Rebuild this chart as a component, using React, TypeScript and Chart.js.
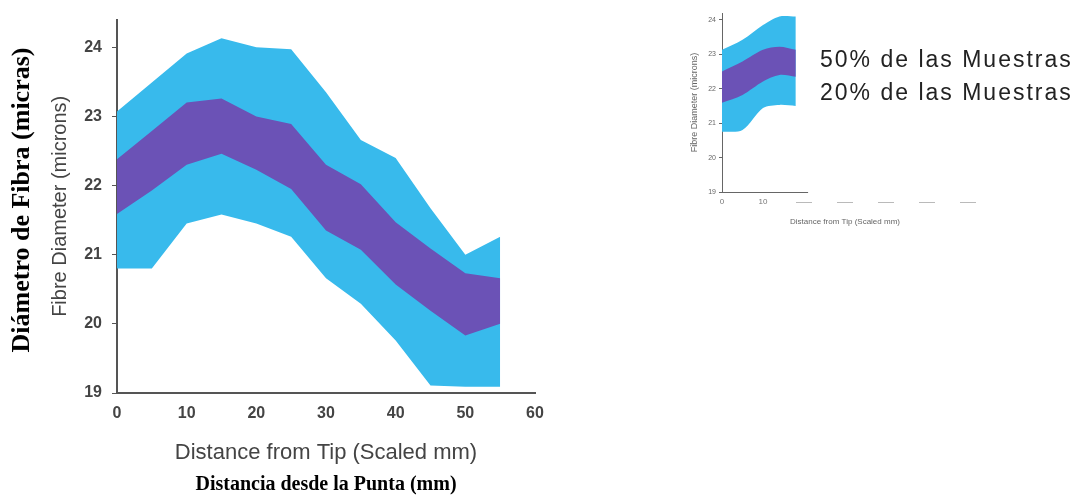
import React, { useEffect, useRef } from "react";
import { Chart, registerables } from "chart.js";

Chart.register(...registerables);

// ---- data (main chart) ----
const distance = [0, 5, 10, 15, 20, 25, 30, 35, 40, 45, 50, 55];
const outerHigh = [23.07, 23.49, 23.91, 24.13, 24.0, 23.97, 23.35, 22.66, 22.4, 21.67, 21.0, 21.26];
const outerLow = [20.8, 20.8, 21.45, 21.58, 21.45, 21.26, 20.66, 20.29, 19.76, 19.11, 19.09, 19.09];
const innerHigh = [22.38, 22.79, 23.2, 23.26, 23.0, 22.89, 22.3, 22.02, 21.47, 21.09, 20.73, 20.66];
const innerLow = [21.59, 21.93, 22.3, 22.46, 22.23, 21.95, 21.35, 21.07, 20.57, 20.19, 19.83, 20.0];

// ---- data (small inset chart) ----
const insetDistance = [0, 5, 10, 14, 18];
const insetOuterHigh = [23.13, 23.42, 23.85, 24.1, 24.1];
const insetOuterLow = [20.75, 20.8, 21.44, 21.53, 21.5];
const insetInnerHigh = [22.5, 22.79, 23.13, 23.22, 23.13];
const insetInnerLow = [21.59, 21.82, 22.21, 22.4, 22.35];
const insetAxisEnd = 21;

// ---- ticks & labels ----
const yTicks = [19, 20, 21, 22, 23, 24];
const xTicks = [0, 10, 20, 30, 40, 50, 60];
const legendLabels = ["50% de las Muestras", "20% de las Muestras"];
const xTitleEn = "Distance from Tip (Scaled mm)";
const yTitleEn = "Fibre Diameter (microns)";
const xTitleEs = "Distancia desde la Punta (mm)";
const yTitleEs = "Diámetro de Fibra (micras)";

const BLUE = "#38baec";
const PURPLE = "#6b52b6";
const SANS = "'Liberation Sans', Arial, sans-serif";
const SERIF = "'Liberation Serif', 'Times New Roman', serif";

function bandDatasets(xs: number[], oh: number[], ol: number[], ih: number[], il: number[], tension: number) {
  const pts = (ys: number[]) => xs.map((x, i) => ({ x, y: ys[i] }));
  const base = { pointRadius: 0, borderWidth: 0, borderColor: "rgba(0,0,0,0)", tension };
  return [
    { ...base, label: legendLabels[0], data: pts(ih), fill: "+1", backgroundColor: PURPLE },
    { ...base, label: "inner low", data: pts(il), fill: false },
    { ...base, label: legendLabels[1], data: pts(oh), fill: "+1", backgroundColor: BLUE },
    { ...base, label: "outer low", data: pts(ol), fill: false },
  ];
}

function MainChart() {
  const ref = useRef<HTMLCanvasElement | null>(null);
  useEffect(() => {
    if (!ref.current) return;
    const chart = new Chart(ref.current, {
      type: "line",
      data: { datasets: bandDatasets(distance, outerHigh, outerLow, innerHigh, innerLow, 0) as any },
      options: {
        animation: false,
        responsive: false,
        devicePixelRatio: 1,
        layout: { padding: { left: 0, top: 15, right: 65, bottom: 0 } },
        plugins: { legend: { display: false }, tooltip: { enabled: false } },
        scales: {
          x: {
            type: "linear",
            min: 0,
            max: 60,
            afterBuildTicks: (s: any) => {
              s.ticks = xTicks.map((v) => ({ value: v }));
            },
            afterFit: (s: any) => {
              s.height = 107;
            },
            grid: { drawOnChartArea: false, drawTicks: false },
            border: { display: true, color: "#555", width: 2 },
            ticks: {
              font: { family: SANS, size: 16, weight: "bold" },
              color: "#444",
              padding: 11,
              maxRotation: 0,
              autoSkip: false,
            },
            title: {
              display: true,
              text: xTitleEn,
              font: { family: SANS, size: 22 },
              color: "#444",
              padding: { top: 0, bottom: 34 },
            },
          },
          y: {
            type: "linear",
            min: 19,
            max: 24.4,
            afterBuildTicks: (s: any) => {
              s.ticks = yTicks.map((v) => ({ value: v }));
            },
            afterFit: (s: any) => {
              s.width = 117;
            },
            grid: { drawOnChartArea: false, drawTicks: true, tickLength: 5, color: "#555" },
            border: { display: true, color: "#555", width: 2 },
            ticks: {
              font: { family: SANS, size: 16, weight: "bold" },
              color: "#444",
              padding: 10,
            },
            title: {
              display: true,
              text: yTitleEn,
              font: { family: SANS, size: 20 },
              color: "#444",
              padding: { top: 48, bottom: 0 },
            },
          },
        },
      } as any,
    });
    return () => chart.destroy();
  }, []);
  return <canvas ref={ref} width={600} height={500} style={{ position: "absolute", left: 0, top: 0 }} />;
}

function InsetChart() {
  const ref = useRef<HTMLCanvasElement | null>(null);
  useEffect(() => {
    if (!ref.current) return;
    const shortAxis = {
      id: "shortAxis",
      afterDraw(chart: any) {
        const { ctx, chartArea, scales } = chart;
        ctx.save();
        ctx.strokeStyle = "#666";
        ctx.lineWidth = 1;
        ctx.beginPath();
        ctx.moveTo(chartArea.left, chartArea.bottom + 0.5);
        ctx.lineTo(scales.x.getPixelForValue(insetAxisEnd), chartArea.bottom + 0.5);
        ctx.stroke();
        ctx.restore();
      },
    };
    const chart = new Chart(ref.current, {
      type: "line",
      data: {
        datasets: bandDatasets(insetDistance, insetOuterHigh, insetOuterLow, insetInnerHigh, insetInnerLow, 0.3) as any,
      },
      options: {
        animation: false,
        responsive: false,
        devicePixelRatio: 1,
        layout: { padding: { left: 0, top: 13, right: 32, bottom: 0 } },
        plugins: { legend: { display: false }, tooltip: { enabled: false } },
        scales: {
          x: {
            type: "linear",
            min: 0,
            max: 60,
            afterBuildTicks: (s: any) => {
              s.ticks = xTicks.map((v) => ({ value: v }));
            },
            afterFit: (s: any) => {
              s.height = 48;
            },
            grid: { drawOnChartArea: false, drawTicks: false },
            border: { display: false },
            ticks: {
              font: { family: SANS, size: 8 },
              color: "#777",
              padding: 5,
              maxRotation: 0,
              autoSkip: false,
              callback: (v: any) => (Number(v) <= 10 ? String(v) : "——"),
            },
            title: {
              display: true,
              text: xTitleEn,
              font: { family: SANS, size: 8 },
              color: "#666",
              padding: { top: 0, bottom: 13 },
            },
          },
          y: {
            type: "linear",
            min: 19,
            max: 24.2,
            afterBuildTicks: (s: any) => {
              s.ticks = yTicks.map((v) => ({ value: v }));
            },
            afterFit: (s: any) => {
              s.width = 52;
            },
            grid: { drawOnChartArea: false, drawTicks: true, tickLength: 3, color: "#666" },
            border: { display: true, color: "#666", width: 1 },
            ticks: {
              font: { family: SANS, size: 7 },
              color: "#666",
              padding: 3,
            },
            title: {
              display: true,
              text: yTitleEn,
              font: { family: SANS, size: 9 },
              color: "#666",
              padding: { top: 19, bottom: 0 },
            },
          },
        },
      } as any,
      plugins: [shortAxis],
    });
    return () => chart.destroy();
  }, []);
  return <canvas ref={ref} width={330} height={240} style={{ position: "absolute", left: 670, top: 0 }} />;
}

export default function App() {
  const legendStyle: React.CSSProperties = {
    position: "absolute",
    left: 820,
    fontFamily: SANS,
    fontSize: 23,
    letterSpacing: "2px",
    color: "#222",
    lineHeight: "26px",
    whiteSpace: "nowrap",
  };
  return (
    <div
      style={{
        position: "absolute",
        left: 0,
        top: 0,
        width: 1078,
        height: 500,
        background: "#fff",
        overflow: "hidden",
      }}
    >
      <MainChart />
      <InsetChart />
      <div
        style={{
          position: "absolute",
          left: 21 - 200,
          top: 200 - 15,
          width: 400,
          height: 30,
          lineHeight: "30px",
          textAlign: "center",
          transform: "rotate(-90deg)",
          transformOrigin: "center center",
          fontFamily: SERIF,
          fontWeight: "bold",
          fontSize: 26,
          color: "#000",
          whiteSpace: "nowrap",
        }}
      >
        {yTitleEs}
      </div>
      <div
        style={{
          position: "absolute",
          left: 0,
          width: 652,
          top: 470,
          height: 26,
          lineHeight: "26px",
          textAlign: "center",
          fontFamily: SERIF,
          fontWeight: "bold",
          fontSize: 20,
          color: "#000",
          whiteSpace: "nowrap",
        }}
      >
        {xTitleEs}
      </div>
      <div style={{ ...legendStyle, top: 46 }}>{legendLabels[0]}</div>
      <div style={{ ...legendStyle, top: 79 }}>{legendLabels[1]}</div>
    </div>
  );
}
